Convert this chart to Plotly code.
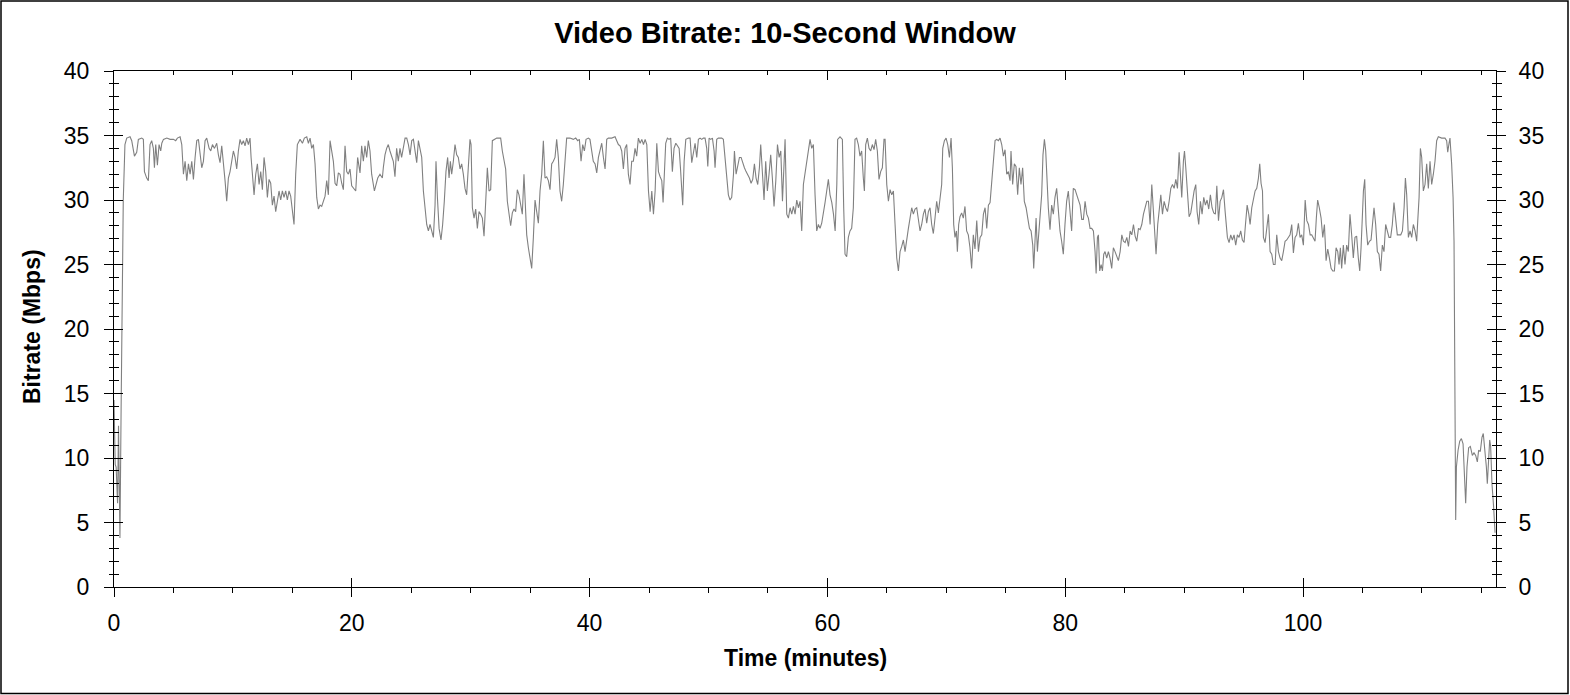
import plotly.graph_objects as go

# ---------------- data ----------------
time_min = [
    0.00, 0.10, 0.18, 0.22, 0.30, 0.38, 0.45, 0.50, 0.60, 0.72, 0.78, 0.92,
    1.07, 1.35, 1.49, 1.72, 1.91, 2.05, 2.33, 2.47, 2.56, 2.75, 2.89, 3.03, 3.17, 3.31, 3.40, 3.51, 3.65, 3.79, 3.93,
    4.02, 4.16, 4.44, 4.72, 5.00, 5.19, 5.33, 5.56, 5.70, 5.84, 5.98, 6.12, 6.26, 6.40, 6.54, 6.68, 6.82, 6.96,
    7.10, 7.24, 7.38, 7.52, 7.66, 7.80, 8.00, 8.14, 8.28, 8.45, 8.64, 8.78, 8.92, 9.06, 9.20, 9.34, 9.48, 9.62,
    9.76, 9.90, 10.04, 10.18, 10.32, 10.46, 10.60, 10.74, 10.88, 11.02, 11.16, 11.30, 11.44, 11.53, 11.64, 11.78,
    11.92, 12.06, 12.20, 12.34, 12.48, 12.62, 12.76, 12.90, 13.04, 13.18, 13.32, 13.46, 13.60, 13.74, 13.88, 14.02,
    14.16, 14.30, 14.44, 14.58, 14.72, 14.86, 15.00, 15.14, 15.28, 15.42, 15.65, 15.85, 16.01, 16.21, 16.35, 16.49,
    16.63, 16.77, 16.91, 17.05, 17.19, 17.33, 17.47, 17.61, 17.75, 17.89, 18.03, 18.17, 18.31, 18.45, 18.59, 18.73,
    18.87, 19.01, 19.15, 19.29, 19.43, 19.57, 19.71, 19.85, 19.99,
    20.21, 20.33, 20.49, 20.69, 20.83, 20.97, 21.11, 21.25, 21.39, 21.53, 21.67, 21.81, 21.90, 22.01, 22.18, 22.37,
    22.57, 22.65, 22.79, 22.93, 23.07, 23.21, 23.35, 23.49, 23.63, 23.77, 23.91, 24.05, 24.19, 24.34, 24.48, 24.62,
    24.76, 24.90, 25.04, 25.18, 25.32, 25.46, 25.60, 25.74, 25.88, 26.02, 26.16, 26.30, 26.44, 26.58, 26.72, 26.86,
    27.00, 27.08, 27.20, 27.34, 27.50, 27.64, 27.78, 27.92, 28.06, 28.18, 28.29, 28.40, 28.54, 28.68, 28.82, 28.96,
    29.10, 29.24, 29.38, 29.52, 29.66, 29.80, 29.94, 30.03, 30.14, 30.28, 30.42, 30.56, 30.70, 30.84, 30.98, 31.12,
    31.26, 31.40, 31.54, 31.68, 31.82, 31.99, 32.19, 32.38, 32.52, 32.66, 32.80, 32.94, 33.08, 33.22, 33.36, 33.50,
    33.64, 33.78, 33.92, 34.06, 34.20, 34.34, 34.48, 34.57, 34.71, 34.85, 34.99, 35.13, 35.27, 35.41, 35.55, 35.69,
    35.83, 35.97, 36.11, 36.25, 36.39, 36.53, 36.67, 36.81, 36.95, 37.09, 37.23, 37.37, 37.51, 37.65, 37.79, 37.93,
    38.07, 38.35, 38.63, 38.83, 39.00, 39.14, 39.28, 39.42, 39.56, 39.70, 39.90, 40.03, 40.17, 40.31, 40.46, 40.60,
    40.74, 40.88, 41.02, 41.16, 41.30, 41.44, 41.58, 41.86, 42.14, 42.28, 42.42, 42.56, 42.70, 42.84, 42.98, 43.12,
    43.26, 43.40, 43.54, 43.68, 43.82, 43.96, 44.10, 44.25, 44.39, 44.53, 44.67, 44.81, 44.95, 45.09, 45.23, 45.37,
    45.51, 45.65, 45.79, 45.93, 46.07, 46.18, 46.29, 46.40, 46.54, 46.68, 46.82, 46.96, 47.10, 47.25, 47.39, 47.53,
    47.64, 47.75, 47.83, 47.95, 48.09, 48.31, 48.45, 48.59, 48.73, 48.87, 49.01, 49.15, 49.29, 49.43, 49.57, 49.71,
    49.85, 49.94, 50.05, 50.19, 50.33, 50.47, 50.55, 50.69, 50.83, 51.11, 51.25, 51.39, 51.53, 51.67, 51.81, 51.95,
    52.10, 52.18, 52.32, 52.46, 52.60, 52.74, 52.88, 53.02, 53.16, 53.30, 53.44, 53.58, 53.72, 53.86, 54.00, 54.14,
    54.28, 54.39, 54.53, 54.67, 54.81, 54.95, 55.09, 55.23, 55.37, 55.51, 55.66, 55.80, 55.94, 56.08, 56.22, 56.36,
    56.44, 56.58, 56.72, 56.86, 57.00, 57.14, 57.28, 57.42, 57.56, 57.70, 57.84, 57.98, 58.12, 58.26, 58.40, 58.54,
    58.68, 58.82, 58.96, 59.10, 59.24, 59.38, 59.52, 59.66, 59.80, 59.94, 60.08, 60.22, 60.37, 60.51, 60.65, 60.79,
    60.86, 61.06, 61.26, 61.37, 61.48, 61.62, 61.76, 61.90, 62.04, 62.18, 62.32, 62.46, 62.60, 62.74, 62.88, 63.02,
    63.11, 63.22, 63.36, 63.50, 63.64, 63.78, 63.92, 64.06, 64.20, 64.34, 64.48, 64.62, 64.76, 64.85, 64.99, 65.13,
    65.27, 65.41, 65.55, 65.69, 65.83, 65.97, 66.11, 66.25, 66.39, 66.53, 66.67, 66.81, 66.95, 67.09, 67.23, 67.37,
    67.51, 67.65, 67.79, 67.93, 68.07, 68.21, 68.35, 68.49, 68.63, 68.77, 68.91, 69.05, 69.19, 69.33, 69.47, 69.61,
    69.70, 69.84, 69.98, 70.12, 70.26, 70.40, 70.51, 70.62, 70.73, 70.85, 70.93, 71.04, 71.15, 71.29, 71.43, 71.57,
    71.71, 71.85, 71.99, 72.13, 72.27, 72.41, 72.56, 72.70, 72.84, 72.98, 73.12, 73.26, 73.40, 73.54, 73.68, 73.82,
    73.96, 74.10, 74.24, 74.38, 74.52, 74.66, 74.80, 74.94, 75.08, 75.22, 75.36, 75.44, 75.58, 75.72, 75.86, 76.00,
    76.14, 76.28, 76.42, 76.56, 76.71, 76.85, 76.99, 77.13, 77.27, 77.35, 77.46, 77.55, 77.66, 77.77, 77.88, 78.02,
    78.13, 78.25, 78.36, 78.47, 78.58, 78.72, 78.86, 79.00, 79.14, 79.28, 79.42, 79.56, 79.70, 79.84, 79.98, 80.12,
    80.26, 80.40, 80.54, 80.68, 80.83, 80.97,
    81.11, 81.25, 81.39, 81.53, 81.67, 81.81, 81.95, 82.09, 82.23, 82.37, 82.51, 82.60, 82.71, 82.79, 82.90, 83.02,
    83.13, 83.24, 83.35, 83.49, 83.63, 83.77, 83.91, 84.05, 84.19, 84.33, 84.47, 84.62, 84.76, 84.90, 85.04, 85.18,
    85.32, 85.46, 85.60, 85.74, 85.88, 86.02, 86.16, 86.30, 86.44, 86.58, 86.72, 86.86, 87.00, 87.14, 87.28, 87.42,
    87.56, 87.64, 87.78, 87.92, 88.04, 88.18, 88.32, 88.46, 88.60, 88.74, 88.88, 89.02, 89.16, 89.30, 89.44, 89.58,
    89.72, 89.80, 89.94, 90.03, 90.14, 90.28, 90.42, 90.56, 90.70, 90.84, 90.98, 91.09, 91.23, 91.37, 91.51, 91.65,
    91.79, 91.93, 92.07, 92.21, 92.35, 92.49, 92.63, 92.75, 92.89, 93.03, 93.17, 93.31, 93.45, 93.53, 93.64, 93.78,
    93.92, 94.06, 94.20, 94.34, 94.48, 94.62, 94.76, 94.90, 95.04, 95.16, 95.30, 95.44, 95.55, 95.69, 95.83, 95.97,
    96.11, 96.25, 96.36, 96.47, 96.59, 96.67, 96.81, 96.95, 97.09, 97.23, 97.37, 97.51, 97.65, 97.79, 97.93, 98.07,
    98.21, 98.35, 98.49, 98.63, 98.77, 98.91, 99.05, 99.19, 99.33, 99.47, 99.61, 99.75, 99.89, 100.03, 100.18, 100.32,
    100.46, 100.60,
    100.73, 100.87, 101.01, 101.12, 101.23, 101.37, 101.52, 101.66, 101.80, 101.94, 102.08, 102.22, 102.36, 102.50,
    102.64, 102.78, 102.92, 103.03, 103.14, 103.25, 103.39, 103.53, 103.67, 103.81, 103.95, 104.09, 104.23, 104.37,
    104.51, 104.65, 104.77, 104.88, 104.99, 105.08, 105.19, 105.30, 105.44, 105.58, 105.72, 105.83, 105.97, 106.11,
    106.25, 106.39, 106.53, 106.67, 106.81, 106.95, 107.09, 107.23, 107.37, 107.51, 107.65, 107.79, 107.93, 108.07,
    108.22, 108.36, 108.50, 108.61, 108.72, 108.86, 109.00, 109.14, 109.28, 109.42, 109.56, 109.65, 109.76, 109.87,
    109.98, 110.12, 110.26, 110.40, 110.54, 110.68, 110.82, 110.96, 111.10, 111.24, 111.38, 111.66, 111.94, 112.08,
    112.17, 112.28, 112.36, 112.50, 112.62, 112.70,
    112.84, 112.90, 113.04, 113.18, 113.32, 113.46, 113.60, 113.68, 113.79, 113.93, 114.07, 114.24, 114.38, 114.52,
    114.66, 114.77, 114.91, 115.05, 115.16, 115.28, 115.42, 115.50, 115.61, 115.70, 115.78, 115.89, 116.03, 116.15,
]

bitrate_mbps = [
    14.5, 9.5, 9.3, 7.4, 6.5, 12.5, 3.8, 3.8, 14.0, 27.3, 30.0, 34.3,
    34.8, 34.9, 34.6, 33.4, 33.7, 34.7, 34.8, 34.7, 32.2, 31.7, 31.5, 34.3, 34.6, 34.0, 32.5, 34.3, 32.7, 34.3, 33.8,
    34.4, 34.7, 34.8, 34.7, 34.7, 34.6, 34.8, 34.9, 34.3, 32.0, 33.0, 31.5, 32.8, 32.0, 33.0, 31.6, 33.3, 34.6,
    34.7, 33.8, 32.5, 33.0, 34.6, 34.8, 34.0, 33.8, 34.3, 34.0, 34.4, 33.5, 32.9, 34.2, 33.0, 31.5, 29.9, 31.7,
    32.2, 33.0, 33.8, 33.3, 32.4, 33.8, 34.7, 34.3, 34.6, 34.2, 34.8, 34.3, 34.8, 33.3, 31.7, 30.4,
    32.0, 32.8, 31.2, 32.2, 30.8, 33.3, 32.2, 30.2, 31.6, 31.3, 29.6, 30.3, 29.1, 29.9, 30.7, 30.0,
    30.7, 30.2, 30.7, 30.0, 30.7, 30.3, 29.4, 28.1, 32.0, 34.3, 34.7, 34.4, 34.8, 34.9, 34.4, 34.8,
    34.0, 34.3, 32.8, 30.2, 29.3, 29.6, 29.5, 29.9, 30.3, 31.5, 30.4, 34.6, 33.9, 33.0, 31.3, 31.1,
    32.1, 32.0, 31.3, 30.8, 34.2, 32.2, 32.0, 32.4, 31.1,
    30.8, 30.7, 33.3, 32.1, 34.2, 33.0, 34.2, 33.3, 34.6, 33.8, 32.0, 31.2, 30.7, 31.1, 31.7, 32.0,
    31.7, 32.5, 33.5, 34.0, 34.3, 33.8, 33.3, 33.0, 31.8, 34.0, 33.0, 34.0, 33.3, 34.0, 34.8, 34.8,
    34.3, 33.5, 34.6, 34.7, 33.8, 32.9, 34.6, 33.9, 33.3, 30.7, 29.4, 28.1, 27.6, 28.1, 27.6, 27.1,
    29.6, 33.0, 30.2, 27.8, 26.9, 28.1, 29.9, 32.2, 33.3, 31.7, 33.0, 32.0, 33.0, 34.3, 33.5, 33.3,
    32.4, 32.8, 32.0, 30.9, 30.4, 32.5, 34.7, 34.3, 29.4, 28.6, 29.3, 27.8, 29.1, 28.9, 28.6, 27.2,
    29.9, 32.5, 30.7, 30.8, 34.6, 34.7, 34.8, 34.8, 34.8, 33.8, 33.0, 32.4, 29.9, 28.9, 28.0, 29.0,
    29.3, 29.1, 30.8, 30.4, 29.6, 28.9, 32.0, 30.4, 27.3, 26.3, 25.5, 24.7, 27.1, 30.0, 29.1, 28.2,
    30.7, 32.0, 34.6, 31.7, 31.8, 31.5, 30.8, 32.8, 33.0, 33.3, 34.7, 33.3, 30.7, 29.9, 31.2, 33.3,
    34.8, 34.8, 34.7, 34.8, 34.6, 34.7, 33.0, 34.3, 33.8, 34.7, 34.8, 34.7, 34.0, 33.0, 32.8, 32.1,
    33.3, 34.0, 34.4, 33.3, 32.4, 34.7, 34.8, 34.8, 34.9, 34.6, 34.3, 34.2, 33.8, 32.4, 34.0, 34.3,
    32.0, 31.2, 33.0, 33.0, 34.0, 33.4, 34.8, 34.4, 34.7, 34.3, 34.7, 34.3, 30.7, 29.1, 30.7, 28.9,
    30.7, 34.4, 32.2, 31.8, 31.5, 29.8, 32.0, 34.4, 34.8, 34.7, 34.8, 32.2, 34.0, 34.4, 34.2, 34.0,
    32.5, 30.7, 29.6, 33.0, 34.7, 34.8, 34.8, 32.9, 33.8, 34.4, 33.3, 34.7, 34.8, 34.7, 34.8, 34.8,
    34.0, 32.6, 34.8, 34.7, 34.8, 33.8, 32.5, 34.7, 34.8, 34.8, 34.7, 33.3, 32.0, 30.4, 30.0, 30.2,
    32.0, 33.8, 32.0, 32.8, 33.3, 33.3, 32.8, 32.5, 32.2, 32.0, 31.7, 31.3, 31.6, 32.8, 31.7, 31.2,
    32.5, 34.3, 31.7, 30.0, 33.0, 30.7, 32.0, 33.5, 31.7, 29.5, 31.5, 34.3, 33.3, 33.8, 29.9, 33.3,
    34.7, 28.9, 28.6, 29.4, 28.9, 29.5, 28.9, 30.0, 29.4, 29.9, 27.6, 31.2, 32.0, 32.8, 33.8, 34.7,
    34.0, 34.3, 30.4, 27.6, 28.1, 27.8, 28.2, 28.9, 29.8, 30.7, 31.6, 30.4, 29.8, 28.9, 27.6, 31.2,
    34.7, 34.9, 34.7, 29.4, 25.8, 25.6, 27.1, 27.6, 27.8, 29.4, 34.7, 34.8, 34.3, 33.4, 33.8, 31.7,
    30.7, 34.3, 34.8, 34.0, 33.8, 34.3, 33.9, 34.7, 33.8, 31.6, 32.2, 32.5, 34.7, 34.7, 31.2, 29.9,
    30.8, 30.4, 30.7, 28.1, 25.5, 24.5, 26.0, 26.4, 26.9, 26.0, 27.1, 27.8, 28.6, 29.4, 28.9, 29.3,
    29.4, 28.4, 27.6, 28.1, 28.9, 29.3, 28.2, 29.1, 29.4, 28.1, 27.4, 28.6, 29.9, 29.0, 30.4, 31.2,
    34.0, 34.6, 34.8, 34.3, 33.3, 34.8, 32.5, 28.1, 27.1, 27.6, 26.0, 28.1, 28.7, 29.0, 28.6, 29.5,
    27.6, 27.3, 26.3, 24.7, 27.3, 26.2, 28.4, 26.0, 27.1, 27.3, 28.9, 29.4, 27.8, 29.6, 29.8, 31.7,
    33.0, 34.6, 34.7, 34.6, 34.8, 34.3, 33.4, 33.9, 32.0, 32.2, 31.5, 33.8, 31.2, 32.8, 32.6, 30.4,
    32.5, 31.2, 32.5, 29.9, 29.4, 28.6, 27.8, 27.6, 26.5, 24.7, 27.3, 28.6, 26.0, 27.3, 29.1, 30.4,
    33.5, 34.7, 33.8, 30.9, 29.4, 27.7, 29.6, 28.9, 30.2, 30.9, 29.4, 27.6, 26.8, 25.8, 28.1, 29.9,
    30.7, 29.4, 27.6, 30.9, 30.8, 30.4,
    29.9, 29.6, 28.5, 28.5, 29.9, 28.9, 28.6, 27.8, 27.8, 27.6, 26.0, 24.3, 27.1, 27.3, 24.5, 25.0,
    24.5, 25.8, 26.0, 25.5, 26.0, 25.5, 24.7, 26.3, 26.0, 25.6, 25.3, 26.0, 27.3, 26.8, 26.7, 27.1,
    26.4, 27.6, 27.3, 28.1, 27.2, 26.8, 27.8, 27.7, 28.1, 28.9, 29.4, 29.9, 29.9, 28.1, 31.2, 29.4,
    27.1, 25.8, 28.1, 29.4, 30.4, 28.9, 29.9, 29.4, 29.1, 29.9, 30.9, 31.2, 30.9, 31.6, 30.9, 33.7,
    31.5, 30.2, 33.0, 33.8, 32.5, 30.7, 28.7, 29.0, 29.9, 30.7, 31.2, 29.1, 28.1, 29.9, 28.9, 30.2,
    29.6, 30.0, 29.3, 30.4, 29.4, 29.0, 28.9, 31.1, 28.4, 29.9, 30.2, 30.8, 29.1, 28.1, 27.1, 26.7,
    27.3, 26.9, 27.3, 26.5, 27.3, 27.1, 27.6, 26.9, 26.7, 28.1, 29.6, 28.9, 28.1, 29.4, 30.0, 30.7,
    30.9, 31.7, 32.8, 31.3, 30.7, 27.1, 26.7, 27.8, 28.9, 26.0, 25.8, 25.0, 25.0, 27.3, 26.0, 25.5,
    25.3, 26.0, 26.8, 26.9, 27.1, 27.3, 28.1, 25.9, 27.1, 27.3, 28.2, 27.1, 27.3, 26.5, 30.0, 28.4,
    28.1, 27.3,
    27.3, 27.1, 26.8, 28.6, 30.0, 29.4, 28.6, 27.1, 28.1, 25.3, 26.2, 25.5, 24.7, 24.5,
    24.5, 26.3, 26.0, 25.0, 26.3, 24.7, 26.5, 25.0, 26.5, 26.0, 28.9, 27.3, 25.5, 27.1,
    27.2, 25.5, 24.5, 26.3, 29.1, 30.7, 31.6, 28.1, 26.5, 26.8, 26.9, 28.1, 29.4, 28.1,
    26.0, 25.8, 24.5, 26.5, 26.0, 28.1, 27.6, 27.1, 27.1, 28.1, 29.8, 28.6, 27.3, 27.3,
    27.3, 27.6, 29.4, 31.7, 30.4, 27.1, 27.6, 27.1, 28.1, 27.6, 26.8, 28.4, 30.2, 34.0,
    33.3, 30.7, 31.2, 32.8, 30.9, 33.0, 31.2, 32.0, 33.0, 34.6, 34.9, 34.8, 34.8, 34.6,
    33.7, 34.4, 34.8, 32.8, 30.2, 26.8,
    5.2, 9.3, 10.6, 11.3, 11.5, 11.1, 7.5, 6.5, 9.3, 10.8, 10.9, 10.2, 10.4, 10.2,
    9.7, 10.6, 10.5, 11.6, 11.9, 10.9, 9.3, 8.0, 10.4, 11.4, 10.9, 8.0, 6.2, 4.2,
]

x_range = [0, 116.23]
y_range = [0, 40]
title_text = "Video Bitrate: 10-Second Window"
x_title = "Time (minutes)"
y_title = "Bitrate (Mbps)"

FONT = "Liberation Sans, Arial, sans-serif"
BLACK = "#000000"

fig = go.Figure()
fig.add_trace(go.Scatter(
    x=time_min, y=bitrate_mbps, mode="lines",
    line=dict(color="#808080", width=1.1),
    showlegend=False, hoverinfo="skip",
))

# empty helper traces so that the overlaid tick-only axes get drawn
for xa, ya in [("x2", "y2"), ("x3", "y3"), ("x3", "y4")]:
    fig.add_trace(go.Scatter(x=[None], y=[None], xaxis=xa, yaxis=ya, mode="lines",
                             showlegend=False, hoverinfo="skip"))

common_x = dict(range=x_range, tick0=0, dtick=20, tickmode="linear", showgrid=False,
                zeroline=False, tickcolor=BLACK, tickwidth=1, autorange=False)
common_y = dict(range=y_range, tick0=0, dtick=5, tickmode="linear", showgrid=False,
                zeroline=False, tickcolor=BLACK, tickwidth=1, autorange=False)

fig.update_layout(
    width=1570, height=695, autosize=False,
    paper_bgcolor="white", plot_bgcolor="white",
    margin=dict(l=114, r=74, t=71, b=108, pad=0),
    font=dict(family=FONT, color=BLACK, size=23),
    title=dict(text="<b>" + title_text + "</b>", x=0.5, xref="container", xanchor="center",
               y=1 - 33 / 695, yref="container", yanchor="middle",
               font=dict(family=FONT, size=29, color=BLACK)),
    xaxis=dict(**common_x, side="bottom", anchor="y", ticks="outside", ticklen=9,
               showline=True, linecolor=BLACK, linewidth=1,
               minor=dict(dtick=5, tick0=0, ticks="outside", ticklen=5, tickcolor=BLACK, showgrid=False),
               showticklabels=True, ticklabelstandoff=6,
               tickfont=dict(size=23, family=FONT, color=BLACK)),
    xaxis2=dict(**common_x, overlaying="x", side="bottom", anchor="y", ticks="inside", ticklen=9,
                showline=False, showticklabels=False),
    xaxis3=dict(**common_x, overlaying="x", side="top", anchor="y", ticks="inside", ticklen=9,
                showline=True, linecolor=BLACK, linewidth=1,
                minor=dict(dtick=5, tick0=0, ticks="inside", ticklen=4, tickcolor=BLACK, showgrid=False),
                showticklabels=False),
    yaxis=dict(**common_y, side="left", anchor="x", ticks="outside", ticklen=9,
               showline=True, linecolor=BLACK, linewidth=1,
               minor=dict(dtick=1, tick0=0, ticks="outside", ticklen=4, tickcolor=BLACK, showgrid=False),
               showticklabels=True, ticklabelstandoff=10,
               tickfont=dict(size=23, family=FONT, color=BLACK)),
    yaxis2=dict(**common_y, overlaying="y", side="left", anchor="x", ticks="inside", ticklen=9,
                minor=dict(dtick=1, tick0=0, ticks="inside", ticklen=5, tickcolor=BLACK, showgrid=False),
                showline=False, showticklabels=False),
    yaxis3=dict(**common_y, overlaying="y", side="right", anchor="x", ticks="outside", ticklen=9,
                showline=True, linecolor=BLACK, linewidth=1,
                minor=dict(dtick=1, tick0=0, ticks="outside", ticklen=5, tickcolor=BLACK, showgrid=False),
                showticklabels=True, ticklabelstandoff=8,
                tickfont=dict(size=23, family=FONT, color=BLACK)),
    yaxis4=dict(**common_y, overlaying="y", side="right", anchor="x", ticks="inside", ticklen=9,
                minor=dict(dtick=1, tick0=0, ticks="inside", ticklen=4, tickcolor=BLACK, showgrid=False),
                showline=False, showticklabels=False),
)

# axis titles as annotations (pixel-matched positions)
PW, PH = 1570 - 114 - 74, 695 - 71 - 108
fig.add_annotation(text="<b>" + x_title + "</b>", xref="paper", yref="paper",
                   x=0.5, y=(587 - 658) / PH, xanchor="center", yanchor="middle",
                   showarrow=False, font=dict(family=FONT, size=23, color=BLACK))
fig.add_annotation(text="<b>" + y_title + "</b>", xref="paper", yref="paper",
                   x=(32 - 114) / PW, y=(587 - 327) / PH, xanchor="center", yanchor="middle",
                   textangle=-90, showarrow=False, font=dict(family=FONT, size=23, color=BLACK))

# outer frame around the whole image
fig.add_shape(type="rect", xref="paper", yref="paper",
              x0=(1 - 114) / PW, x1=(1568 - 114) / PW,
              y0=(587 - 693.5) / PH, y1=(587 - 1) / PH,
              line=dict(color=BLACK, width=1.5), fillcolor="rgba(0,0,0,0)", layer="above")

fig.write_html("out.html", config={"displayModeBar": False},
               post_script="document.body.style.margin='0';document.body.style.overflow='hidden';")
